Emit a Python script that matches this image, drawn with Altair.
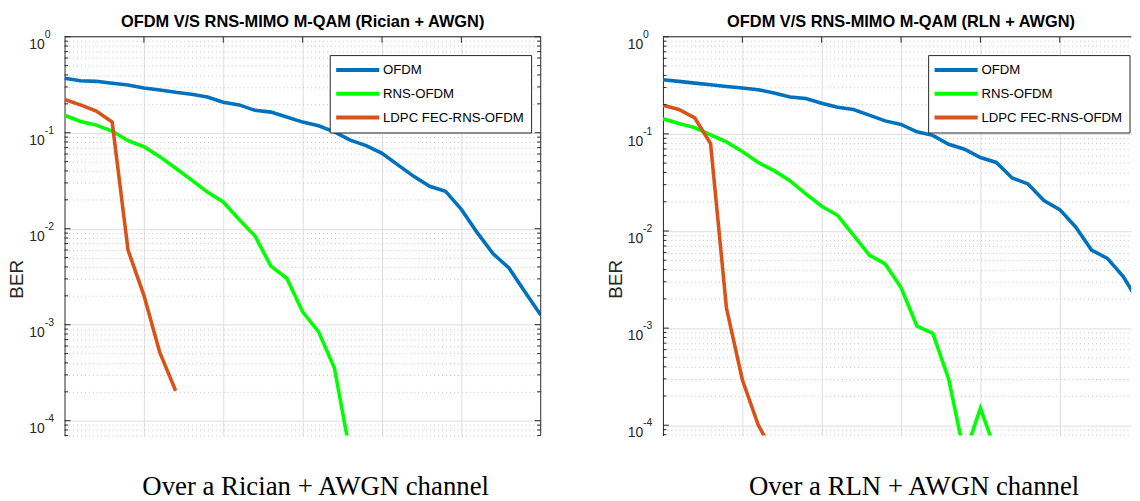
import altair as alt
import pandas as pd

# ---------------- data ----------------
SNR = list(range(31))
SERIES = ["OFDM", "RNS-OFDM", "LDPC FEC-RNS-OFDM"]
COLORS = ["#0072BD", "#00FF00", "#D95319"]

ric_ofdm = [0.369, 0.348, 0.343, 0.327, 0.314, 0.292, 0.279, 0.264, 0.252, 0.236,
            0.208, 0.195, 0.171, 0.164, 0.146, 0.129, 0.118, 0.102, 0.0837, 0.0733,
            0.061, 0.0462, 0.0351, 0.0277, 0.0246, 0.0159, 0.0091, 0.00548, 0.0039,
            0.0022, 0.00126]
ric_rns = [0.152, 0.131, 0.120, 0.104, 0.0825, 0.0715, 0.0563, 0.0427, 0.0323, 0.0241,
           0.019, 0.0125, 0.0084, 0.00407, 0.00305, 0.00136, 0.000847, 0.000354, 0.000045]
ric_ldpc = [0.222, 0.195, 0.168, 0.129, 0.00598, 0.00202, 0.000514, 0.000205]

rln_ofdm = [0.360, 0.347, 0.333, 0.320, 0.308, 0.296, 0.285, 0.264, 0.240, 0.231,
            0.207, 0.188, 0.178, 0.156, 0.136, 0.125, 0.105, 0.0966, 0.0782, 0.0695,
            0.0571, 0.0508, 0.0351, 0.0305, 0.0206, 0.0166, 0.0110, 0.00637, 0.00522,
            0.0034, 0.00182]
rln_rns = [0.143, 0.128, 0.116, 0.0975, 0.0826, 0.0658, 0.0508, 0.0418, 0.033, 0.0241,
           0.018, 0.0145, 0.00906, 0.00566, 0.00458, 0.00262, 0.00105, 0.000883, 0.000299,
           0.000049, 0.00015, 0.000052]
rln_ldpc = [0.197, 0.178, 0.146, 0.0794, 0.00161, 0.000294, 0.000101, 0.00005]

DECADES = [1, 0.1, 0.01, 0.001, 0.0001]
MANTISSA = ["10", "10", "10", "10", "10"]
EXPONENTS = ["0", "-1", "-2", "-3", "-4"]
MINOR = [k * 10.0 ** e for e in range(-5, 0) for k in range(2, 10)]
XGRID = [5, 10, 15, 20, 25, 30]

SANS = "Liberation Sans"
AXC = "#262626"
IS_MAJOR = "abs(log(datum.value)/LN10 - round(log(datum.value)/LN10)) < 0.001"


def panel(title, caption, ofdm, rns, ldpc, ymin, W, H, xmax, right_border):
    rows = []
    for name, vals in zip(SERIES, [ofdm, rns, ldpc]):
        for x, v in zip(SNR, vals):
            rows.append({"snr": x, "ber": v, "series": name})
    df = pd.DataFrame(rows)

    xs = alt.Scale(domain=[0, xmax], nice=False, zero=False)
    ys = alt.Scale(type="log", domain=[ymin, 1], nice=False)
    minor = [m for m in MINOR if ymin <= m < 1]
    majors = [d for d in DECADES if d >= ymin]

    x_axis = alt.Axis(values=[g for g in XGRID if g < xmax], grid=True,
                      gridColor="#dedede", gridWidth=1,
                      domain=False, ticks=False, labels=False,
                      title=caption, titleFont="Liberation Serif", titleFontSize=27,
                      titleFontWeight="normal", titleColor="black",
                      titleX=252.6, titleY=59, titleBaseline="alphabetic",
                      titleAlign="center")
    y_axis = alt.Axis(values=majors + minor, grid=True,
                      gridColor={"condition": {"test": IS_MAJOR, "value": "#dedede"},
                                 "value": "#c4c4c4"},
                      gridDash={"condition": {"test": IS_MAJOR, "value": []},
                                "value": [1, 3]},
                      domain=True, domainColor=AXC, domainWidth=1,
                      ticks=False, tickSize=0, labels=False,
                      title="BER", titleFont=SANS, titleFontSize=19,
                      titleFontWeight="normal", titleColor=AXC,
                      titleX=-42, titleY=244, titleBaseline="alphabetic",
                      titleAlign="center")

    legend = alt.Legend(title=None, orient="none", legendX=267.3, legendY=18.5,
                        symbolType="M-1.42,0H5.82", symbolSize=144, symbolStrokeWidth=4,
                        labelFont=SANS, labelFontSize=13.3, labelColor="black",
                        labelOffset=30.7, labelLimit=0, strokeColor=AXC, fillColor="white",
                        padding=7, rowPadding=8, cornerRadius=0)
    color = alt.Color("series:N", scale=alt.Scale(domain=SERIES, range=COLORS),
                      legend=legend)

    X = alt.X("snr:Q", scale=xs, axis=x_axis)
    Y = alt.Y("ber:Q", scale=ys, axis=y_axis)

    layers = []
    for name in SERIES:
        layers.append(
            alt.Chart(df).transform_filter(alt.datum.series == name)
            .mark_line(clip=True, strokeWidth=3.6)
            .encode(x=X, y=Y, color=color)
        )

    maj_df = pd.DataFrame({"ber": majors})
    min_df = pd.DataFrame({"ber": minor})
    lab_df = pd.DataFrame({"ber": DECADES, "m": MANTISSA, "e": EXPONENTS})
    lab_df = lab_df[lab_df["ber"] >= ymin]
    xt_df = pd.DataFrame({"snr": [g for g in XGRID if g < xmax]})
    one = pd.DataFrame({"k": [0]})
    title_df = pd.DataFrame({"t": [title]})

    def ytick(data, x0, x1):
        return alt.Chart(data).mark_rule(color=AXC, strokeWidth=1).encode(
            x=alt.value(x0), x2=alt.value(x1), y=Y)

    layers += [ytick(maj_df, 0, 6), ytick(min_df, 0, 3.5)]
    if right_border:
        layers += [ytick(maj_df, W, W - 6), ytick(min_df, W, W - 3.5),
                   alt.Chart(one).mark_rule(color=AXC, strokeWidth=1).encode(
                       x=alt.value(W), y=alt.value(0), y2=alt.value(H))]
    layers += [
        alt.Chart(xt_df).mark_rule(color=AXC, strokeWidth=1).encode(
            x=X, y=alt.value(0), y2=alt.value(6)),
        alt.Chart(one).mark_rule(color=AXC, strokeWidth=1).encode(
            x=alt.value(0), x2=alt.value(W), y=alt.value(0)),
        alt.Chart(lab_df).mark_text(align="right", baseline="alphabetic", dy=12,
                                    font=SANS, fontSize=14, color=AXC).encode(
            x=alt.value(-20), y=Y, text="m:N"),
        alt.Chart(lab_df).mark_text(align="left", baseline="alphabetic", dy=1,
                                    font=SANS, fontSize=10.5, color=AXC).encode(
            x=alt.value(-20), y=Y, text="e:N"),
        # panel title (centred on the full 480 px axes box)
        alt.Chart(title_df).mark_text(align="center", baseline="alphabetic",
                                      font=SANS, fontSize=16.5, fontWeight="bold",
                                      color="black").encode(
            x=alt.value(240), y=alt.value(-10), text="t:N"),
    ]

    return alt.layer(*layers).properties(width=W, height=H)


left = panel("OFDM V/S RNS-MIMO M-QAM (Rician + AWGN)", "Over a Rician + AWGN channel",
             ric_ofdm, ric_rns, ric_ldpc, 7.0e-5, 480, 402, 30, True)
# the right panel is cut by the picture's right edge, as in the reference
right = panel("OFDM V/S RNS-MIMO M-QAM (RLN + AWGN)", "Over a RLN + AWGN channel",
              rln_ofdm, rln_rns, rln_ldpc, 7.83e-5, 472, 402, 29.5, False)

chart = alt.hconcat(left, right, spacing=65.2).resolve_scale(
    color="independent").resolve_legend(color="independent").properties(
    padding={"top": 4, "left": 0, "right": 0, "bottom": 0},
    background="white",
).configure_view(stroke=None)

chart.save("out.html", embed_options={"renderer": "svg", "actions": False})
